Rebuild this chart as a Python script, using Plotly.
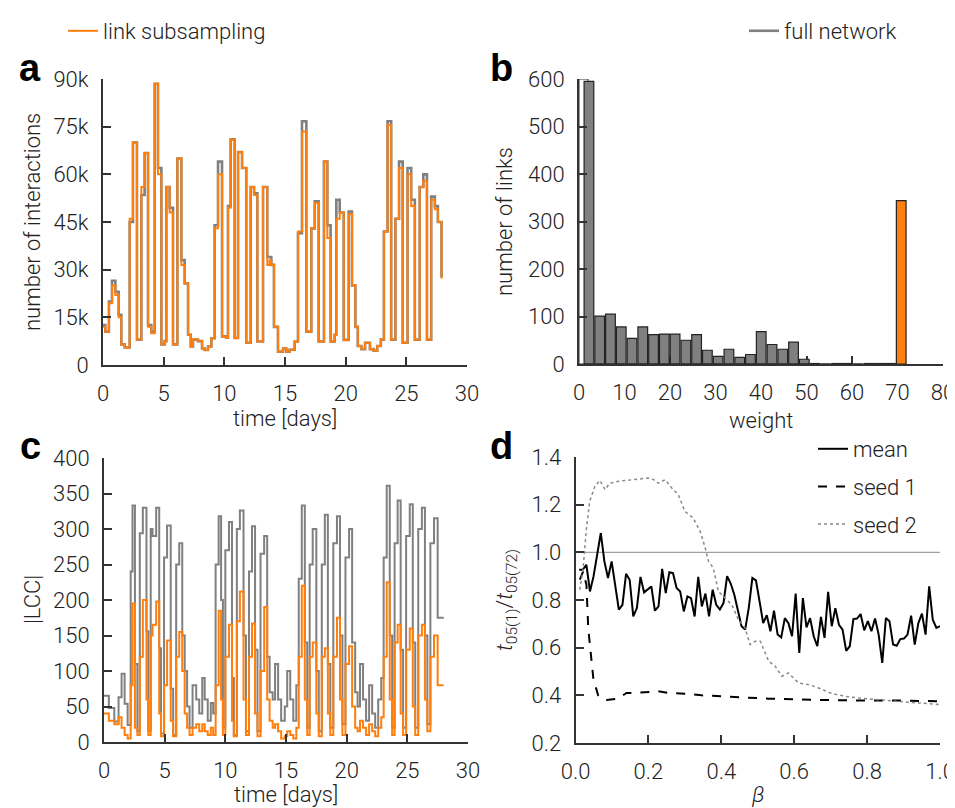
import numpy as np
import plotly.graph_objects as go

ORANGE = '#ff7f0e'
GRAY = '#808080'
AXC = '#333333'
FONT = 'Roboto'
W, H = 955, 808

# ---- panel a: interactions per time step (thousands) ----
t_a = [0.0, 0.19, 0.49, 0.74, 1.02, 1.29, 1.51, 1.79, 2.20, 2.47, 2.80, 3.16, 3.43, 3.71, 3.98,
       4.26, 4.53, 4.81, 5.08, 5.22, 5.49, 5.77, 6.13, 6.46, 6.73, 7.01, 7.23, 7.42, 7.83, 8.16,
       8.38, 8.65, 8.93, 9.20, 9.48, 9.81, 10.16, 10.30, 10.52, 10.85, 11.13, 11.46, 11.81, 12.17,
       12.45, 12.72, 13.19, 13.54, 13.73, 13.87, 14.09, 14.42, 14.84, 15.11, 15.38, 15.80, 16.07,
       16.40, 16.76, 17.17, 17.45, 17.77, 18.21, 18.49, 18.76, 19.09, 19.23, 19.51, 19.84, 20.25,
       20.52, 20.80, 21.0, 21.3, 21.6, 22.0, 22.3, 22.6, 22.9, 23.15, 23.45, 23.75, 24.1, 24.4,
       24.7, 25.1, 25.4, 25.7, 26.1, 26.4, 26.7, 27.05, 27.35, 27.6, 27.9, 28.0]
a_full = [12.6, 10.5, 20, 26.5, 23, 15.8, 6.5, 5.5, 45, 70, 8, 53.5, 66.7, 12.6, 10.5,
          88.5, 62, 6.5, 7.5, 56, 49.5, 6.5, 65, 33, 25.7, 9.5, 5.8, 8, 7.5, 5.2,
          4.7, 5.8, 8.4, 44, 64, 9, 8.6, 50, 71, 8.5, 67, 62, 7, 56,
          54, 7.4, 56, 34, 34, 31.5, 12, 4.2, 5.2, 4.2, 4.8, 7.4, 41.5,
          76.7, 10.5, 43, 51.5, 7.4, 64, 44, 7.4, 9.5, 52, 48, 7.9, 48.3,
          25, 12, 6, 5, 7, 5, 4.5, 6, 8, 42, 76.7, 8, 46, 64,
          7, 62, 52, 8, 56, 60, 8, 53, 50, 45, 28, 28]
a_sub = [12, 10.5, 19.4, 25, 22, 15, 6.5, 5.5, 46, 70, 8, 56, 66.7, 12, 10,
         88.5, 60, 6.5, 7.5, 56, 48, 6.5, 65, 31.5, 25.7, 9.5, 5.8, 8, 7.5, 5.2,
         4.7, 5.8, 8.4, 43, 60, 9, 8.6, 49.5, 71, 8.5, 67, 62, 7, 56,
         53.5, 7.4, 56, 31.5, 33, 31.5, 12, 4.2, 5.2, 4.2, 4.8, 7.4, 42,
         73.5, 10.5, 43, 51, 7.4, 64, 40, 7.4, 9.5, 46, 48, 7.9, 47.5,
         25, 12, 6, 5, 7, 5, 4.5, 6, 8, 42, 75.5, 8, 46, 62,
         7, 60, 50, 8, 56, 58, 8, 52, 49, 45, 27.5, 27.5]

# ---- panel b: weight histogram ----
weight_edges = np.linspace(1, 72, 31)
links_full = [595, 101, 105, 78, 54, 78, 62, 63, 63, 50, 62, 29, 16, 31, 14, 20, 68, 41, 31, 46,
              10, 1, 0, 1, 1, 0, 1, 1, 1, 0]
links_sub = [0] * 29 + [344]
outline_w = [1.0]
outline_n = [600]

# ---- panel c: size of largest connected component ----
t_c = [0.0, 0.4, 0.85, 1.2, 1.45, 1.7, 1.95, 2.2, 2.35, 2.55, 2.75, 2.95, 3.2, 3.5, 3.65, 3.85,
       4.0, 4.3, 4.55, 4.7, 4.95, 5.2, 5.5, 5.7, 5.95, 6.2, 6.45, 6.65, 6.85, 7.05, 7.3, 7.6,
       7.85, 8.1, 8.3, 8.55, 8.8, 9.0, 9.2, 9.45, 9.65, 9.8, 10.0, 10.3, 10.55, 10.7, 10.95,
       11.2, 11.5, 11.7, 11.95, 12.2, 12.45, 12.65, 12.9, 13.2, 13.45, 13.65, 13.9, 14.1, 14.35,
       14.6, 14.9, 15.1, 15.35, 15.6, 15.85, 16.05, 16.3, 16.55, 16.75, 16.95, 17.2, 17.5, 17.7,
       17.95, 18.2, 18.45, 18.65, 18.9, 19.2, 19.45, 19.65, 19.9, 20.2, 20.45, 20.7, 20.9, 21.1,
       21.35, 21.6, 21.85, 22.1, 22.35, 22.6, 22.85, 23.05, 23.3, 23.55, 23.75, 23.95, 24.2,
       24.45, 24.65, 24.9, 25.2, 25.45, 25.65, 25.9, 26.2, 26.45, 26.65, 26.9, 27.2, 27.5, 28.0]
c_full = [65, 48, 29, 63, 96, 54, 24, 240, 333, 110, 15, 294, 330, 156, 16, 300,
          290, 330, 132, 12, 260, 305, 75, 10, 250, 280, 150, 100, 50, 20, 80, 60,
          40, 90, 60, 30, 55, 40, 250, 318, 200, 20, 270, 310, 90, 10, 300,
          326, 150, 15, 240, 304, 130, 15, 265, 290, 120, 70, 60, 110, 60,
          30, 50, 100, 60, 30, 80, 230, 333, 140, 20, 250, 300, 100, 15,
          250, 320, 110, 20, 280, 318, 150, 25, 260, 300, 140, 70, 50, 110,
          60, 30, 80, 40, 20, 60, 90, 260, 361, 150, 20, 280, 340,
          130, 20, 290, 335, 140, 20, 300, 330, 150, 25, 280, 315, 175, 175]
c_sub = [40, 30, 25, 35, 20, 10, 5, 80, 195, 20, 10, 120, 200, 60, 10, 150,
         165, 198, 40, 8, 80, 143, 30, 8, 120, 155, 100, 40, 20, 10, 20, 25,
         15, 25, 15, 10, 20, 10, 80, 185, 60, 10, 120, 165, 30, 8, 170,
         212, 60, 10, 120, 167, 40, 8, 100, 190, 60, 30, 20, 25, 15,
         5, 8, 15, 10, 5, 20, 120, 220, 60, 10, 120, 140, 40, 8,
         120, 132, 40, 10, 120, 175, 60, 10, 110, 135, 50, 20, 15, 30,
         20, 10, 25, 15, 8, 20, 35, 120, 225, 60, 10, 140, 165,
         40, 10, 130, 160, 50, 10, 150, 165, 60, 15, 120, 150, 80, 80]

# ---- panel d: ratio of t05 vs beta ----
mean_ratio = [0.927, 0.927, 0.948, 0.836, 0.9, 0.997, 1.081, 0.962, 0.892, 0.962, 0.864, 0.76,
              0.78, 0.91, 0.885, 0.731, 0.766, 0.897, 0.832, 0.846, 0.857, 0.755, 0.773, 0.931,
              0.829, 0.917, 0.913, 0.85, 0.836, 0.752, 0.815, 0.808, 0.731, 0.897, 0.773, 0.827,
              0.731, 0.843, 0.78, 0.76, 0.787, 0.9, 0.869, 0.822, 0.752, 0.69, 0.676, 0.766,
              0.892, 0.882, 0.794, 0.703, 0.736, 0.669, 0.755, 0.655, 0.643, 0.724, 0.703, 0.648,
              0.827, 0.578, 0.808, 0.685, 0.724, 0.648, 0.606, 0.729, 0.641, 0.834, 0.69, 0.766,
              0.696, 0.676, 0.587, 0.606, 0.72, 0.722, 0.741, 0.673, 0.711, 0.669, 0.722, 0.655,
              0.536, 0.724, 0.711, 0.613, 0.608, 0.636, 0.638, 0.655, 0.734, 0.613, 0.703, 0.743,
              0.655, 0.857, 0.717, 0.683, 0.69]
beta_mean = np.linspace(0.01, 1.0, len(mean_ratio))
beta_s1 = [0.012, 0.021, 0.030, 0.035, 0.049, 0.062, 0.071, 0.085, 0.117, 0.140, 0.163, 0.190,
           0.227, 0.255, 0.300, 0.346, 0.392, 0.438, 0.484, 0.530, 0.621, 0.713, 0.804, 0.896, 1.0]
seed1 = [0.885, 0.92, 0.864, 0.68, 0.47, 0.40, 0.386, 0.38, 0.386, 0.41, 0.41, 0.414,
         0.417, 0.41, 0.407, 0.40, 0.396, 0.393, 0.389, 0.386, 0.382, 0.379, 0.378, 0.378, 0.375]
beta_s2 = [0.012, 0.021, 0.030, 0.039, 0.053, 0.067, 0.081, 0.094, 0.117, 0.163, 0.200, 0.214,
           0.227, 0.246, 0.264, 0.282, 0.300, 0.323, 0.342, 0.356, 0.365, 0.378, 0.392, 0.410,
           0.429, 0.447, 0.465, 0.479, 0.493, 0.507, 0.530, 0.548, 0.566, 0.584, 0.612, 0.640,
           0.667, 0.704, 0.740, 0.777, 0.823, 0.878, 0.942, 1.0]
seed2 = [0.843, 0.934, 1.1, 1.214, 1.277, 1.302, 1.263, 1.29, 1.298, 1.305, 1.312, 1.305,
         1.29, 1.305, 1.27, 1.242, 1.172, 1.144, 1.088, 1.018, 0.962, 0.934, 0.836, 0.808,
         0.78, 0.717, 0.683, 0.613, 0.627, 0.627, 0.543, 0.522, 0.48, 0.494, 0.452, 0.445,
         0.431, 0.407, 0.396, 0.389, 0.382, 0.375, 0.368, 0.361]
ref_beta = [0.0, 1.0]
ref_ratio = [1.0, 1.0]


def px_x(v):
    return v / W


def px_y(v):
    return 1 - v / H


fig = go.Figure()

# panel a
fig.add_trace(go.Scatter(x=t_a, y=a_full, mode='lines', line=dict(color=GRAY, width=2.6, shape='hv'),
                         xaxis='x', yaxis='y', name='full network', legend='legend2'))
fig.add_trace(go.Scatter(x=t_a, y=a_sub, mode='lines', line=dict(color=ORANGE, width=2, shape='hv'),
                         xaxis='x', yaxis='y', name='link subsampling', legend='legend'))

# panel b
centers = (weight_edges[:-1] + weight_edges[1:]) / 2
bw = weight_edges[1] - weight_edges[0]
fig.add_trace(go.Bar(x=outline_w, y=outline_n, width=2.0, marker=dict(color='white', line=dict(color=AXC, width=1)),
                     xaxis='x2', yaxis='y2', showlegend=False))
fig.add_trace(go.Bar(x=centers, y=links_full, width=bw * 0.9,
                     marker=dict(color=GRAY, line=dict(color='#222222', width=1.2)),
                     xaxis='x2', yaxis='y2', showlegend=False))
fig.add_trace(go.Bar(x=centers, y=links_sub, width=bw * 0.9,
                     marker=dict(color=ORANGE, line=dict(color='#222222', width=1.2)),
                     xaxis='x2', yaxis='y2', showlegend=False))

# panel c
fig.add_trace(go.Scatter(x=t_c, y=c_full, mode='lines', line=dict(color=GRAY, width=2, shape='hv'),
                         xaxis='x3', yaxis='y3', showlegend=False))
fig.add_trace(go.Scatter(x=t_c, y=c_sub, mode='lines', line=dict(color=ORANGE, width=2, shape='hv'),
                         xaxis='x3', yaxis='y3', showlegend=False))

# panel d
fig.add_trace(go.Scatter(x=ref_beta, y=ref_ratio, mode='lines', line=dict(color='#a0a0a0', width=1.2),
                         xaxis='x4', yaxis='y4', showlegend=False))
fig.add_trace(go.Scatter(x=beta_mean, y=mean_ratio, mode='lines', line=dict(color='black', width=2),
                         xaxis='x4', yaxis='y4', name='mean', legend='legend3', legendgroup='m'))
fig.add_trace(go.Scatter(x=beta_s1, y=seed1, mode='lines', line=dict(color='black', width=2, dash='dash'),
                         xaxis='x4', yaxis='y4', name='seed 1', legend='legend3', legendgroup='s1'))
fig.add_trace(go.Scatter(x=beta_s2, y=seed2, mode='lines', line=dict(color='#888888', width=1.5, dash='dot'),
                         xaxis='x4', yaxis='y4', name='seed 2', legend='legend3', legendgroup='s2'))

tickfont = dict(family=FONT, size=22, color='#222222', weight=300)


def axis(dom, rng, tickvals, ticktext=None, anchor=None, layer='above traces'):
    d = dict(domain=dom, range=rng, tickvals=tickvals, ticks='inside', ticklen=8, tickwidth=1.5,
             tickcolor=AXC, showline=True, linecolor=AXC, linewidth=2, showgrid=False, zeroline=False,
             tickfont=tickfont, ticklabelstandoff=8, automargin=False, anchor=anchor, layer=layer,
             fixedrange=True, ticklabeloverflow='allow')
    if ticktext is not None:
        d['ticktext'] = ticktext
    return d


xa = [px_x(95), px_x(459)]
xb = [px_x(571), px_x(935)]
xc = [px_x(96), px_x(460)]
xd = [px_x(567.5), px_x(932)]
ya = [px_y(357), px_y(71)]
yb = [px_y(356), px_y(71)]
yc = [px_y(734), px_y(450)]
yd = [px_y(735), px_y(449)]

days = [0, 5, 10, 15, 20, 25, 30]
fig.update_layout(
    xaxis=axis(xa, [0, 30], days, anchor='y'),
    yaxis=axis(ya, [0, 90], [0, 15, 30, 45, 60, 75, 90], ['0', '15k', '30k', '45k', '60k', '75k', '90k'], anchor='x'),
    xaxis2=axis(xb, [0, 80], list(range(0, 81, 10)), anchor='y2', layer='below traces'),
    yaxis2=axis(yb, [0, 600], list(range(0, 601, 100)), anchor='x2'),
    xaxis3=axis(xc, [0, 30], days, anchor='y3'),
    yaxis3=axis(yc, [0, 400], list(range(0, 401, 50)), anchor='x3'),
    xaxis4=axis(xd, [0, 1], [0, 0.2, 0.4, 0.6, 0.8, 1.0], ['0.0', '0.2', '0.4', '0.6', '0.8', '1.0'], anchor='y4'),
    yaxis4=axis(yd, [0.2, 1.4], [0.2, 0.4, 0.6, 0.8, 1.0, 1.2, 1.4],
                ['0.2', '0.4', '0.6', '0.8', '1.0', '1.2', '1.4'], anchor='x4'),
    barmode='overlay',
    width=W, height=H,
    margin=dict(l=0, r=0, t=0, b=0),
    paper_bgcolor='white', plot_bgcolor='white',
    font=dict(family=FONT, size=22, color='#222222', weight=300),
    legend=dict(x=px_x(55), y=px_y(2), xanchor='left', yanchor='top', bgcolor='rgba(0,0,0,0)',
                font=dict(size=22)),
    legend2=dict(x=px_x(736), y=px_y(2), xanchor='left', yanchor='top', bgcolor='rgba(0,0,0,0)',
                 font=dict(size=22)),
    legend3=dict(x=px_x(805), y=px_y(420), xanchor='left', yanchor='top', bgcolor='rgba(0,0,0,0)',
                 font=dict(size=22), tracegroupgap=6),
    showlegend=True,
)

ann = []


def label(text, x, y, size=22, angle=0, bold=False):
    f = dict(family=FONT, size=size, color='#222222', weight=300)
    if bold:
        f = dict(family='Liberation Sans', size=size, color='black', weight=700)
    ann.append(dict(text=text, x=px_x(x), y=px_y(y), xref='paper', yref='paper', showarrow=False,
                    textangle=angle, font=f, xanchor='center', yanchor='middle'))


label('a', 22, 60, size=38, bold=True)
label('b', 494, 60, size=38, bold=True)
label('c', 22, 438, size=38, bold=True)
label('d', 494, 438, size=38, bold=True)
label('number of interactions', 24, 214, angle=-90)
label('number of links', 496, 214, angle=-90)
label('|LCC|', 24, 592, angle=-90)
label('<i>t</i><sub>05(1)</sub>/<i>t</i><sub>05(72)</sub>', 498, 592, angle=-90)
label('time [days]', 277, 410)
label('weight', 753, 412)
label('time [days]', 278, 786)
label('<i>β</i>', 750, 786)
fig.update_layout(annotations=ann)

fig.write_html('out.html')
